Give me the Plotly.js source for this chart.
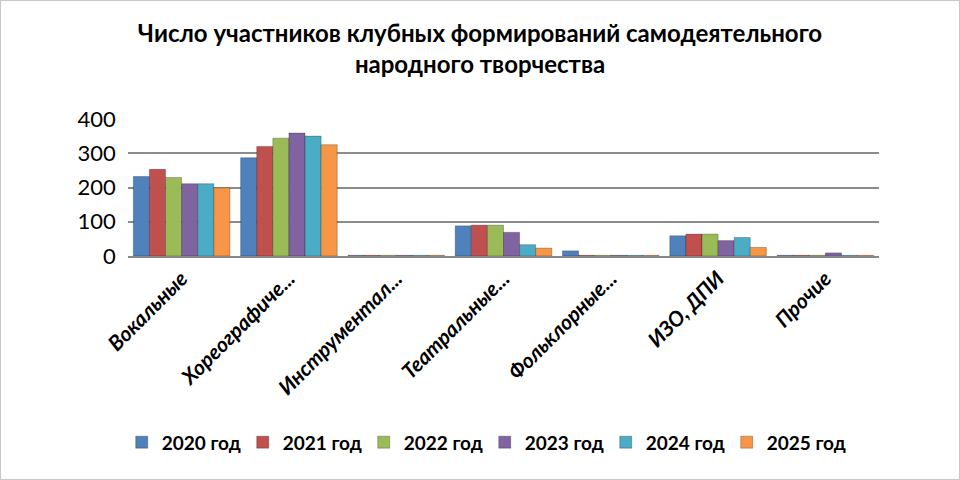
<!DOCTYPE html>
<html>
<head>
<meta charset="utf-8">
<script src="https://cdn.plot.ly/plotly-3.0.1.min.js"></script>
<style>
  body { margin: 0; background: #fff; }
  #chart { width: 958px; height: 478px; border: 1px solid #c8c8c8; }
</style>
</head>
<body>
<div id="chart"></div>
<script>
/* global Plotly */
const CATEGORIES = ['Вокальные', 'Хореографиче...', 'Инструментал...', 'Театральные...', 'Фольклорные...', 'ИЗО, ДПИ', 'Прочие'];
const YEARS = ['2020 год', '2021 год', '2022 год', '2023 год', '2024 год', '2025 год'];
const COLORS = ['#4F81BD', '#C0504D', '#9BBB59', '#8064A2', '#4BACC6', '#F79646'];

const Y2020 = [232, 287, 2, 88, 15, 59, 2];
const Y2021 = [253, 320, 2, 90, 2, 64, 2];
const Y2022 = [229, 344, 2, 90, 2, 64, 2];
const Y2023 = [211, 359, 2, 69, 2, 45, 9];
const Y2024 = [211, 350, 2, 33, 2, 54, 2];
const Y2025 = [199, 325, 2, 23, 2, 25, 2];

const SERIES = [Y2020, Y2021, Y2022, Y2023, Y2024, Y2025];

const traces = SERIES.map((values, i) => ({
    type: 'bar',
    name: YEARS[i],
    x: CATEGORIES,
    y: values,
    marker: {color: COLORS[i], line: {color: 'rgba(0,0,0,0.25)', width: 1}},
    hoverinfo: 'x+y+name'
}))

const layout = {
    width: 958,
    height: 478,
    paper_bgcolor: '#fff',
    plot_bgcolor: '#fff',
    font: {family: 'Lato, "Open Sans", sans-serif', color: '#000'},
    title: {
        text: 'Число участников клубных формирований самодеятельного<br>народного творчества',
        font: {size: 24, weight: 'bold'},
        x: 0.5,
        xanchor: 'center',
        y: 0.915,
        yanchor: 'top'
    },
    margin: {l: 127, r: 80, t: 118, b: 223},
    barmode: 'group',
    bargap: 0.1,
    bargroupgap: 0,
    xaxis: {
        tickangle: -45,
        tickfont: {size: 21, weight: 'bold', style: 'italic'},
        showline: true,
        linecolor: '#888',
        linewidth: 2,
        ticks: '',
        fixedrange: true
    },
    yaxis: {
        range: [0, 400],
        dtick: 100,
        tickfont: {size: 22},
        gridcolor: '#8c8c8c',
        gridwidth: 2,
        zeroline: false,
        showline: false,
        ticks: '',
        ticksuffix: '  ',
        fixedrange: true
    },
    legend: {
        orientation: 'h',
        x: 0.475,
        xanchor: 'center',
        y: -1.36,
        yanchor: 'middle',
        font: {size: 19, weight: 'bold'},
        entrywidth: 76,
        itemwidth: 20
    },
    showlegend: true
}

Plotly.newPlot('chart', traces, layout, {displayModeBar: false, staticPlot: true})
</script>
</body>
</html>
